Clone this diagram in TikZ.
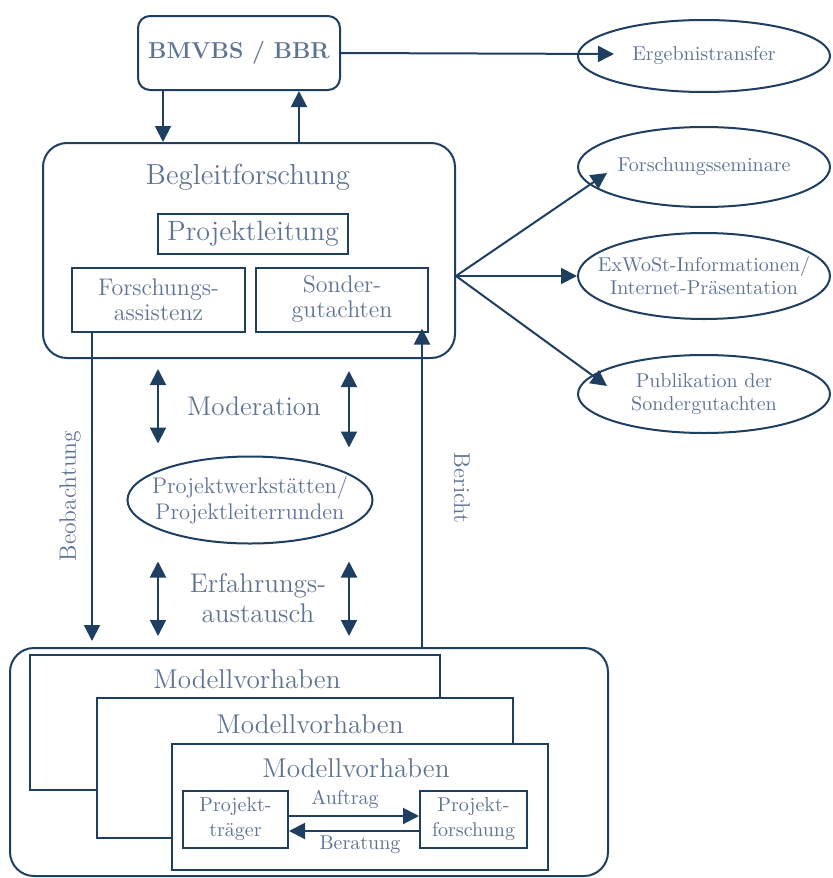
\documentclass[tikz,border=0pt]{standalone}
\usepackage{tikz}
\usetikzlibrary{shapes.geometric,arrows.meta,calc}
\definecolor{linecol}{HTML}{1F3F60}
\definecolor{txtcol}{HTML}{5F7393}
\tikzset{
  ln/.style={draw=linecol, line width=1pt},
  arr/.style={ln, -{Triangle[length=8pt,width=8pt]}},
  dbl/.style={ln, {Triangle[length=8pt,width=8pt]}-{Triangle[length=8pt,width=8pt]}},
  txt/.style={text=txtcol, inner sep=0pt, align=center},
  box/.style={ln, fill=white, inner sep=0pt, text=txtcol, align=center},
  oval/.style={ln, ellipse, inner ysep=0pt, inner xsep=-12pt, text=txtcol, align=center,
    minimum width=126pt, font=\fontsize{10}{11.5}\selectfont},
}
\begin{document}
\begin{tikzpicture}[x=0.5pt,y=-0.5pt]
  \useasboundingbox (0,0) rectangle (833,878);
  % top part
  \node[box, rounded corners=6pt, minimum width=101pt, minimum height=37pt,
    font=\bfseries\fontsize{11.5}{13}\selectfont] (bmvbs) at (239,53) {BMVBS / BBR};
  \node[box, rounded corners=12pt, minimum width=206pt, minimum height=107.5pt] (begl) at (249,250.5) {};
  \node[txt, font=\fontsize{14.5}{16}\selectfont] (beglt) at (248,177) {Begleitforschung};
  \node[box, minimum width=95pt, minimum height=20pt, font=\fontsize{14}{16}\selectfont] (pl) at (253,234) {Projektleitung};
  \node[box, minimum width=86.5pt, minimum height=32pt, font=\fontsize{12}{12.5}\selectfont] (fa) at (158.5,299.5) {Forschungs-\\assistenz};
  \node[box, minimum width=86pt, minimum height=32pt, font=\fontsize{12}{12.5}\selectfont] (sg) at (342,299.5) {Sonder-\\gutachten};
  % ellipses on the right
  \node[oval, minimum height=36pt] (erg) at (704,56) {Ergebnistransfer};
  \node[oval, minimum height=40pt] (fs) at (704,167) {Forschungsseminare};
  \node[oval, minimum height=43pt] (ew) at (704,276) {ExWoSt-Informationen/\\Internet-Präsentation};
  \node[oval, minimum height=39pt] (pub) at (704,394) {Publikation der\\Sondergutachten};
  % middle
  \node[txt, font=\fontsize{13.5}{15}\selectfont] (mod) at (254,406) {Moderation};
  \node[oval, minimum width=122.5pt, minimum height=43.5pt, font=\fontsize{11.3}{13}\selectfont] (pw) at (250,500) {Projektwerkstätten/\\Projektleiterrunden};
  \node[txt, font=\fontsize{13.5}{15}\selectfont] (ea) at (258,598) {Erfahrungs-\\austausch};
  \node[txt, rotate=90, font=\fontsize{11.8}{13}\selectfont] (beob) at (70,496) {Beobachtung};
  \node[txt, rotate=-90, font=\fontsize{11.4}{13}\selectfont] (ber) at (462,488) {Bericht};
  % bottom part
  \node[box, rounded corners=12pt, minimum width=299pt, minimum height=114pt] (mv) at (309,762) {};
  \node[box, minimum width=205pt, minimum height=67.5pt] (mv1) at (235,722.5) {};
  \node[txt, font=\fontsize{13.6}{15}\selectfont] (mvt1) at (247,679) {Modellvorhaben};
  \node[box, minimum width=208pt, minimum height=70pt] (mv2) at (305,768) {};
  \node[txt, font=\fontsize{13.6}{15}\selectfont] (mvt2) at (310,724) {Modellvorhaben};
  \node[box, minimum width=188pt, minimum height=63pt] (mv3) at (360,807) {};
  \node[txt, font=\fontsize{13.6}{15}\selectfont] (mvt3) at (356,768) {Modellvorhaben};
  \node[box, minimum width=52.5pt, minimum height=28.5pt, font=\fontsize{10}{12.5}\selectfont] (ptr) at (235.5,819.5) {Projekt-\\träger};
  \node[box, minimum width=53.5pt, minimum height=28.5pt, font=\fontsize{10}{12.5}\selectfont] (pf) at (473.5,819.5) {Projekt-\\forschung};
  \node[txt, font=\fontsize{10}{12}\selectfont] (auf) at (345,799) {Auftrag};
  \node[txt, font=\fontsize{10}{12}\selectfont] (bera) at (360,845) {Beratung};
  % connectors
  \coordinate (c1) at (163,0);
  \coordinate (c2) at (299,0);
  \coordinate (c3) at (92,0);
  \coordinate (c4) at (422,0);
  \coordinate (c5) at (158,0);
  \coordinate (c6) at (349,0);
  \draw[arr] (c1 |- bmvbs.south) -- (c1 |- begl.north);
  \draw[arr] (c2 |- begl.north) -- (c2 |- bmvbs.south);
  \draw[arr] (bmvbs.east) -- ($(erg.center)+(-90,-2)$);
  \coordinate (fan) at (begl.east |- ew.west);
  \draw[arr] (fan) -- ($(fs.center)+(-97,6)$);
  \draw[arr] (fan) -- (ew.west);
  \draw[arr] (fan) -- ($(pub.center)+(-97,-8)$);
  \draw[arr, shorten >=3pt] (c3 |- fa.south) -- (c3 |- mv.north);
  \draw[arr, shorten >=-2pt] (c4 |- mv.north) -- (c4 |- sg.south);
  \draw[dbl, shorten <=5pt, shorten >=6pt] (c5 |- begl.south) -- (c5 |- pw.north);
  \draw[dbl, shorten <=6pt, shorten >=4pt] (c6 |- begl.south) -- (c6 |- pw.north);
  \draw[dbl, shorten <=8.5pt, shorten >=5.5pt] (c5 |- pw.south) -- (c5 |- mv.north);
  \draw[dbl, shorten <=8.5pt, shorten >=5.5pt] (c6 |- pw.south) -- (c6 |- mv.north);
  \draw[arr] ([yshift=1.75pt]ptr.east) -- ([yshift=1.75pt]pf.west);
  \draw[arr] ([yshift=-5.75pt]pf.west) -- ([yshift=-5.75pt]ptr.east);
\end{tikzpicture}
\end{document}
